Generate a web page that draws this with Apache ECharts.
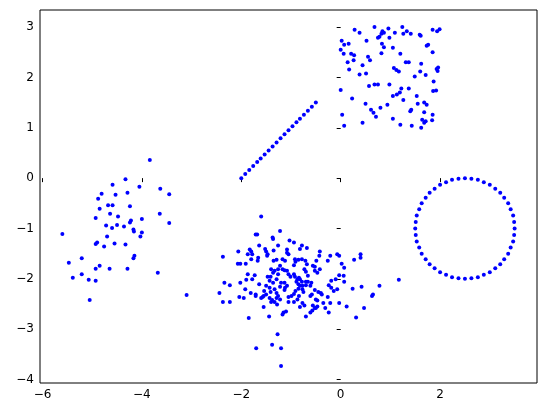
<!DOCTYPE html>
<html><head><meta charset="utf-8">
<script src="https://cdn.jsdelivr.net/npm/echarts@6/dist/echarts.min.js"></script>
<style>html,body{margin:0;padding:0;background:#fff}#c{width:546px;height:413px}</style>
</head><body><div id="c"></div>
<script>
const xTicks = [-6, -4, -2, 0, 2];
const yTicks = [-4, -3, -2, -1, 0, 1, 2, 3];

const squarePts = [[0.68,3.0],[1.24,3.0],[0.28,2.95],[0.38,2.89],[0.96,2.97],[0.84,2.92],[0.87,2.89],[1.09,2.89],[1.26,2.87],[1.33,2.92],[1.41,2.87],[1.59,2.85],[1.61,2.83],[1.85,2.95],[1.94,2.92],[1.99,2.96],[0.78,2.81],[0.75,2.79],[0.82,2.87],
[0.02,2.73],[0.07,2.65],[0.16,2.67],[0.52,2.73],[0.83,2.67],[0.87,2.6],[1.05,2.59],[0.98,2.79],
[0.0,2.55],[0.06,2.47],[0.21,2.47],[0.27,2.44],[0.82,2.48],[1.2,2.47],[1.76,2.65],[1.73,2.63],[1.85,2.5],
[0.14,2.3],[0.26,2.34],[0.44,2.24],[0.55,2.41],[0.59,2.34],[1.31,2.3],[1.37,2.3],[1.62,2.27],[0.17,2.16],[0.38,2.06],[0.51,2.08],[1.07,2.19],[1.12,2.15],[1.17,2.12],[1.49,2.02],[1.6,2.12],[1.71,2.05],[1.93,2.17],[1.95,2.13],[1.96,2.2],[1.87,1.92],
[0.0,1.75],[0.57,1.83],[0.68,1.86],[0.75,1.86],[0.98,1.86],[1.22,1.78],[1.37,1.78],[1.19,1.7],[1.13,1.66],[1.05,1.63],[1.53,1.63],[1.86,1.73],[1.92,1.74],[0.23,1.58],[1.26,1.55],[1.55,1.48],[1.68,1.5],[1.73,1.46],[0.5,1.48],[0.61,1.36],[0.66,1.3],[0.8,1.4],[0.94,1.46],[1.42,1.36],[1.4,1.33],[1.68,1.31],[0.71,1.22],[0.03,1.26],[1.85,1.26],[1.05,1.18],[1.64,1.16],[1.71,1.13],[1.84,1.15],[1.68,1.1],[0.44,1.1],[0.07,1.04],[1.2,1.06],[1.43,1.04],[1.62,1.0]];

const lineX = [-2.0,-1.92,-1.84,-1.76,-1.68,-1.61,-1.53,-1.45,-1.37,-1.29,-1.21,-1.13,-1.05,-0.97,-0.89,-0.82,-0.74,-0.66,-0.58,-0.5];
const lineY = [0.0,0.08,0.16,0.24,0.32,0.39,0.47,0.55,0.63,0.71,0.79,0.87,0.95,1.03,1.11,1.18,1.26,1.34,1.42,1.5];

const circleX = [3.5,3.49,3.47,3.42,3.37,3.29,3.21,3.11,3.0,2.88,2.76,2.63,2.5,
2.37,2.24,2.12,2.0,1.89,1.79,1.71,1.63,1.58,1.53,1.51,1.5,
1.51,1.53,1.58,1.63,1.71,1.79,1.89,2.0,2.12,2.24,2.37,2.5,
2.63,2.76,2.88,3.0,3.11,3.21,3.29,3.37,3.42,3.47,3.49];
const circleY = [-1,-0.87,-0.74,-0.62,-0.5,-0.39,-0.29,-0.21,-0.13,-0.08,-0.03,-0.01,0,
-0.01,-0.03,-0.08,-0.13,-0.21,-0.29,-0.39,-0.5,-0.62,-0.74,-0.87,-1,
-1.13,-1.26,-1.38,-1.5,-1.61,-1.71,-1.79,-1.87,-1.92,-1.97,-1.99,-2,
-1.99,-1.97,-1.92,-1.87,-1.79,-1.71,-1.61,-1.5,-1.38,-1.26,-1.13];

const blobPts = [[-1.6,-0.76],[-1.71,-1.12],[-1.68,-1.12],[-1.22,-1.05],[-1.37,-1.18],[-1.36,-1.21],[-1.03,-1.24],[-0.94,-1.28],[-0.78,-1.34],[-0.82,-1.41],[-0.68,-1.39],[-0.42,-1.46],[-2.06,-1.46],[-1.83,-1.42],[-1.8,-1.46],[-1.78,-1.51],[-1.64,-1.34],[-1.52,-1.41],[-1.5,-1.46],[-1.47,-1.51],[-1.26,-1.34],[-1.35,-1.44],[-1.08,-1.42],[-1.08,-1.48],[-1.05,-1.51],[-2.37,-1.56],[-2.07,-1.7],[-2.02,-1.7],[-1.91,-1.7],[-1.87,-1.51],[-1.8,-1.61],[-1.67,-1.64],[-1.66,-1.58],[-1.48,-1.54],[-1.35,-1.64],[-1.29,-1.62],[-1.17,-1.61],[-1.12,-1.64],[-0.92,-1.61],[-0.85,-1.62],[-0.78,-1.61],[-0.71,-1.64],[-0.68,-1.71],[-0.56,-1.74],[-0.49,-1.64],[-0.43,-1.54],[-0.26,-1.64],[-0.21,-1.54],[-0.07,-1.51],[-0.03,-1.54],[0.02,-1.7],[0.07,-1.78],[0.27,-1.62],[0.4,-1.51],[0.4,-1.58],[1.17,-2.02],[0.78,-2.14],[0.42,-2.16],[0.24,-2.2],[0.65,-2.31],[0.63,-2.34],[0.47,-2.58],[0.31,-2.77],[0.12,-2.55],[-0.03,-2.48],[0.06,-1.94],[0.07,-2.06],[-0.03,-1.93],[-0.1,-2.01],[-0.07,-2.21],[-0.14,-2.24],[-0.24,-2.13],[-0.19,-2.18],[-0.19,-2.04],[-0.26,-2.36],[-0.21,-2.48],[-0.35,-2.48],[-0.31,-2.58],[-0.24,-2.67],[-0.52,-1.76],[-0.52,-1.84],[-0.47,-1.88],[-0.42,-1.81],[-0.59,-2.08],[-0.61,-2.14],[-0.7,-2.13],[-0.52,-2.22],[-0.45,-2.26],[-0.4,-2.28],[-0.38,-2.31],[-0.58,-2.31],[-0.61,-2.34],[-0.5,-2.41],[-0.47,-2.43],[-0.56,-2.53],[-0.52,-2.58],[-0.57,-2.63],[-0.61,-2.67],[-0.47,-2.55],[-0.5,-2.58],[-0.7,-2.75],[-0.82,-2.56],[-0.77,-2.48],[-0.73,-2.53],[-0.87,-2.41],[-0.84,-2.34],[-0.94,-2.3],[-0.99,-2.34],[-1.05,-2.36],[-1.05,-2.46],[-0.94,-2.46],[-1.1,-2.65],[-1.15,-2.67],[-1.17,-2.71],[-1.26,-2.34],[-1.29,-2.38],[-1.22,-2.41],[-1.28,-2.51],[-1.33,-2.46],[-1.38,-2.42],[-1.4,-2.46],[-1.43,-2.38],[-1.44,-2.75],[-1.55,-2.34],[-1.5,-2.31],[-1.55,-2.56],[-1.6,-2.38],[-1.57,-2.36],[-1.71,-2.31],[-1.71,-2.34],[-1.81,-2.28],[-1.95,-2.38],[-2.04,-2.36],[-1.85,-2.78],[-1.92,-2.21],[-2.02,-2.08],[-2.23,-2.13],[-2.34,-2.08],[-2.44,-2.28],[-2.37,-2.46],[-2.23,-2.46],[-1.9,-2.02],[-1.87,-1.91],[-1.78,-2.01],[-1.73,-1.93],[-1.64,-2.11],[-1.5,-2.14],[-1.47,-1.96],[-1.43,-2.04],[-1.41,-1.96],[-1.36,-2.08],[-1.29,-2.01],[-1.26,-1.91],[-1.17,-1.81],[-1.13,-1.83],[-1.26,-1.81],[-1.22,-1.74],[-1.33,-1.84],[-1.4,-1.81],[-1.36,-1.88],[-1.08,-1.84],[-1.05,-1.91],[-1.01,-1.96],[-0.94,-1.91],[-0.92,-1.96],[-0.87,-2.01],[-0.89,-2.06],[-0.85,-2.11],[-0.82,-2.14],[-0.78,-2.06],[-0.77,-2.14],[-0.84,-1.98],[-0.82,-2.01],[-0.85,-2.2],[-0.91,-2.24],[-1.13,-2.08],[-1.08,-2.14],[-1.12,-2.18],[-1.13,-2.22],[-1.2,-2.08],[-1.22,-2.16],[-1.29,-2.28],[-1.33,-2.21],[-1.43,-2.18],[-1.41,-2.26],[-1.54,-2.24],[-0.94,-1.73],[-0.91,-1.66],[-0.73,-1.81],[-0.7,-1.86],[-0.66,-1.94],[-0.7,-2.06],[-0.66,-2.06],[-0.77,-2.21],[-0.75,-2.26],[-1.2,-3.38],[-1.7,-3.38],[-1.38,-3.31],[-1.27,-3.1],[-1.2,-3.73],[-3.1,-2.32]];

const leftPts = [[-3.84,0.36],[-4.33,-0.02],[-4.59,-0.13],[-4.05,-0.17],[-3.63,-0.21],[-4.81,-0.31],[-4.53,-0.33],[-4.29,-0.29],[-3.45,-0.32],[-4.88,-0.41],[-4.68,-0.54],[-4.59,-0.54],[-4.85,-0.61],[-4.24,-0.56],[-4.64,-0.71],[-4.48,-0.76],[-3.64,-0.71],[-4.0,-0.81],[-4.93,-0.79],[-4.22,-0.84],[-4.24,-0.88],[-4.5,-0.93],[-4.72,-0.94],[-4.6,-0.99],[-4.36,-0.96],[-3.45,-0.89],[-4.17,-1.02],[-4.16,-1.06],[-4.0,-1.08],[-4.03,-1.16],[-5.6,-1.11],[-4.7,-1.16],[-4.9,-1.28],[-4.93,-1.31],[-4.55,-1.3],[-4.33,-1.32],[-4.76,-1.36],[-4.15,-1.54],[-4.17,-1.59],[-5.21,-1.59],[-5.47,-1.68],[-4.85,-1.74],[-4.93,-1.8],[-4.65,-1.8],[-4.29,-1.8],[-3.68,-1.88],[-5.39,-1.98],[-5.21,-1.91],[-5.07,-2.02],[-4.93,-2.04],[-5.05,-2.42]];

const linePts = lineX.map((x, i) => [x, lineY[i]]);
const circlePts = circleX.map((x, i) => [x, circleY[i]]);
const allPts = [].concat(squarePts, linePts, circlePts, blobPts, leftPts);

const fmt = v => (v < 0 ? '\u2212' + Math.abs(v) : String(v));
const chart = echarts.init(document.getElementById('c'), null, {renderer: 'canvas'});
chart.setOption({
  animation: false,
  grid: {left: 40, right: 9, top: 10, bottom: 30, show: true, borderColor: '#000', borderWidth: 1, backgroundColor: 'transparent'},
  xAxis: {
    type: 'value', min: -6.05, max: 3.95,
    axisLine: {show: false},
    splitLine: {show: false},
    axisTick: {show: true, inside: false, length: 4, customValues: xTicks, lineStyle: {color: '#000'}},
    axisLabel: {customValues: xTicks, formatter: fmt, color: '#000', fontFamily: 'DejaVu Sans', fontSize: 12, margin: 6}
  },
  yAxis: {
    type: 'value', min: -4.07, max: 3.34,
    axisLine: {show: false},
    splitLine: {show: false},
    axisTick: {show: true, inside: false, length: 4, customValues: yTicks, lineStyle: {color: '#000'}},
    axisLabel: {customValues: yTicks, formatter: fmt, color: '#000', fontFamily: 'DejaVu Sans', fontSize: 12, margin: 6}
  },
  series: [{
    type: 'scatter', data: allPts, symbolSize: 4,
    itemStyle: {color: '#0000ff', opacity: 1}
  }]
});
</script></body></html>
